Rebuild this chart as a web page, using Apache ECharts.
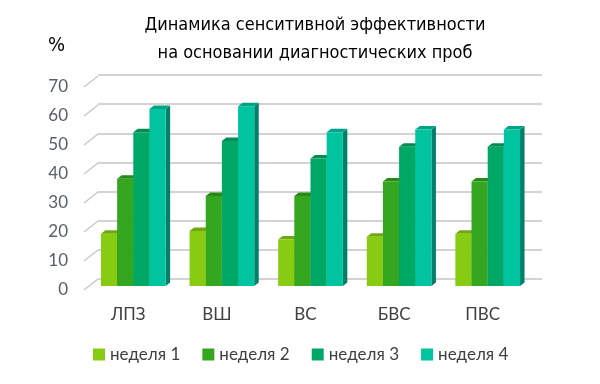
<!DOCTYPE html>
<html><head><meta charset="utf-8">
<script src="https://cdn.jsdelivr.net/npm/echarts@6/dist/echarts.min.js"></script>
<style>html,body{margin:0;padding:0;background:#fff}#c{width:600px;height:384px}</style>
</head><body><div id="c"></div>
<script>
const categories = ['ЛПЗ', 'ВШ', 'ВС', 'БВС', 'ПВС'];
const seriesNames = ['неделя 1', 'неделя 2', 'неделя 3', 'неделя 4'];
const week1 = [18, 19, 16, 17, 18];
const week2 = [37, 31, 31, 36, 36];
const week3 = [53, 50, 44, 48, 48];
const week4 = [61, 62, 53, 54, 54];
const yTicks = [0, 10, 20, 30, 40, 50, 60, 70];
const titleText = 'Динамика сенситивной эффективности\nна основании диагностических проб';
const unitText = '%';

const weeks = [week1, week2, week3, week4];
const frontColors = ['#87cc12', '#34a620', '#00a865', '#00c3a0'];
const topColors = ['#6fa80c', '#278a18', '#008c54', '#00a487'];
const sideColors = ['#5a8c08', '#1f7212', '#007244', '#00806a'];
const GAP = 0.27;           // barCategoryGap
const DX = 4.5, DY = -3.5;  // bar depth
const WX = 14, WY = -11;    // wall depth (front -> back)

const chart = echarts.init(document.getElementById('c'), null, {renderer: 'canvas'});
const labelFont = 'Lato, "Open Sans", sans-serif';
const narrowFont = '"Liberation Sans Narrow", "DejaVu Sans Condensed", sans-serif';

function barRender(si) {
  return function (params, api) {
    const i = api.value(0), v = api.value(1);
    const c = api.coord([i, v]);
    const base = api.coord([i, 0]);
    const band = api.size([1, 0])[0];
    const groupW = band * (1 - GAP);
    const bw = groupW / 4;
    const x = c[0] - groupW / 2 + si * bw;
    const yTop = c[1], yBot = base[1];
    return {
      type: 'group',
      children: [
        {type: 'polygon', shape: {points: [[x + bw, yBot], [x + bw + DX, yBot + DY], [x + bw + DX, yTop + DY], [x + bw, yTop]]}, style: {fill: sideColors[si]}},
        {type: 'polygon', shape: {points: [[x, yTop], [x + DX, yTop + DY], [x + bw + DX, yTop + DY], [x + bw, yTop]]}, style: {fill: topColors[si]}},
        {type: 'rect', shape: {x: x, y: yTop, width: bw, height: yBot - yTop}, style: {fill: frontColors[si]}}
      ]
    };
  };
}

const series = [
  {
    type: 'custom', name: 'wall', xAxisIndex: 1, yAxisIndex: 1, silent: true,
    data: yTicks.map(t => [0, t]),
    renderItem: function (params, api) {
      const c = api.coord([0, api.value(1)]);
      const x0 = c[0] - api.size([1, 0])[0] / 2;
      return {type: 'line', shape: {x1: x0, y1: c[1], x2: x0 + WX, y2: c[1] + WY}, style: {stroke: '#c8c8c8', lineWidth: 1.5}};
    }
  }
];
seriesNames.forEach((n, si) => {
  series.push({
    type: 'custom', name: n, xAxisIndex: 2, yAxisIndex: 2,
    itemStyle: {color: frontColors[si]},
    data: weeks[si].map((v, i) => [i, v]),
    renderItem: barRender(si)
  });
});

chart.setOption({
  animation: false,
  title: {
    text: titleText, left: 310, top: 6, textAlign: 'center',
    textStyle: {fontFamily: narrowFont, fontSize: 18, fontWeight: 'normal', color: '#000', lineHeight: 28}
  },
  graphic: [{type: 'text', left: 48, top: 36, style: {text: unitText, fontFamily: narrowFont, fontSize: 20, fill: '#000'}}],
  legend: {
    bottom: 16, left: 88, itemWidth: 12, itemHeight: 12, itemGap: 22, icon: 'rect',
    data: seriesNames,
    textStyle: {fontFamily: labelFont, fontSize: 17, color: '#404040'}
  },
  grid: [
    {left: 98, right: 58, top: 75, bottom: 105},
    {left: 84, right: 73, top: 87, bottom: 94},
    {left: 89, right: 68, top: 83, bottom: 98}
  ],
  xAxis: [
    {type: 'category', gridIndex: 0, data: categories, show: false},
    {type: 'category', gridIndex: 1, data: categories, axisLine: {show: false}, axisTick: {show: false},
      axisLabel: {margin: 16, fontFamily: labelFont, fontSize: 17, color: '#404040'}},
    {type: 'category', gridIndex: 2, data: categories, show: false}
  ],
  yAxis: [
    {type: 'value', gridIndex: 0, min: 0, max: 70, interval: 10, axisLine: {show: false}, axisTick: {show: false}, axisLabel: {show: false},
      splitLine: {lineStyle: {color: '#c4c4c4', width: 1.5}}},
    {type: 'value', gridIndex: 1, min: 0, max: 70, interval: 10, axisLine: {show: false}, axisTick: {show: false}, splitLine: {show: false},
      axisLabel: {margin: 16, fontFamily: labelFont, fontSize: 17, color: '#55606c'}},
    {type: 'value', gridIndex: 2, min: 0, max: 70, interval: 10, show: false, splitLine: {show: false}}
  ],
  series: series
});
</script></body></html>
